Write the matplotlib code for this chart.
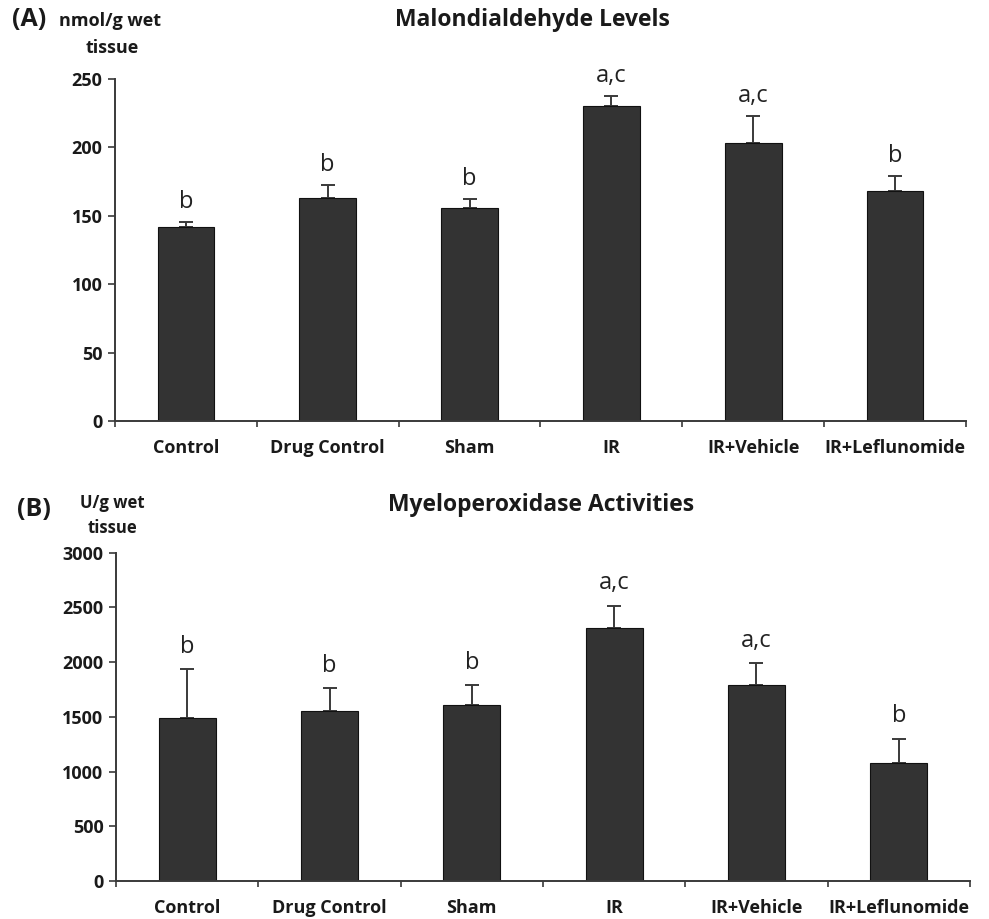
import matplotlib
matplotlib.use("Agg")
import matplotlib.pyplot as plt
import numpy as np

categories = ["Control", "Drug Control", "Sham", "IR", "IR+Vehicle", "IR+Leflunomide"]

mda_values = [142, 163, 156, 230, 203, 168]
mda_err = [3.5, 9.5, 6, 7.5, 20, 11]
mda_letters = ["b", "b", "b", "a,c", "a,c", "b"]
mda_yticks = [0, 50, 100, 150, 200, 250]

mpo_values = [1485, 1550, 1605, 2315, 1790, 1075]
mpo_err = [450, 210, 185, 200, 200, 225]
mpo_letters = ["b", "b", "b", "a,c", "a,c", "b"]
mpo_yticks = [0, 500, 1000, 1500, 2000, 2500, 3000]

FONT = "Open Sans"
BAR = "#333333"
AX = "#3a3a3a"
TXT = "#1a1a1a"

fig = plt.figure(figsize=(9.89, 9.19), dpi=100)

def fy(py):
    return 1 - py / 919

def panel(rect, values, errs, letters, yticks, ymax, title, title_xy, letter_off):
    ax = fig.add_axes(rect)
    x = np.arange(len(categories))
    ax.bar(x, values, width=0.4, color=BAR, edgecolor="#111111", linewidth=0.8, zorder=2)
    ax.errorbar(x, values, yerr=[np.zeros(len(values)), errs], fmt="none",
                ecolor=AX, elinewidth=1.4, capsize=5, capthick=1.4, zorder=1)
    for xi, v, e, l in zip(x, values, errs, letters):
        ax.text(xi, v + e + letter_off, l, ha="center", va="bottom",
                fontsize=17, family=FONT, color="#222222")
    ax.set_xlim(-0.5, len(categories) - 0.5)
    ax.set_ylim(0, ymax)
    ax.set_yticks(yticks)
    ax.set_yticklabels([str(t) for t in yticks], fontsize=13, fontweight="bold",
                       family=FONT, color=TXT)
    ax.set_xticks(np.arange(-0.5, len(categories) + 0.5, 1))
    ax.set_xticklabels([])
    ax.set_xticks(x, minor=True)
    ax.set_xticklabels(categories, minor=True, fontsize=13, fontweight="bold",
                       family=FONT, color=TXT)
    ax.tick_params(axis="x", which="minor", length=0, pad=13)
    ax.tick_params(axis="x", which="major", length=4, width=1.2, color=AX, direction="out")
    ax.tick_params(axis="y", length=5, width=1.2, color=AX, direction="out", pad=4)
    for s in ["top", "right"]:
        ax.spines[s].set_visible(False)
    for s in ["left", "bottom"]:
        ax.spines[s].set_color(AX)
        ax.spines[s].set_linewidth(1.4)
    fig.text(title_xy[0], title_xy[1], title, ha="center", va="center", fontsize=16.5,
             fontweight="bold", family=FONT, color=TXT)
    return ax

panel([115 / 989, fy(421), 851 / 989, (421 - 79) / 919], mda_values, mda_err, mda_letters,
      mda_yticks, 250, "Malondialdehyde Levels", (532 / 989, fy(20)), 6)
panel([116 / 989, fy(881), 854 / 989, (881 - 552.7) / 919], mpo_values, mpo_err, mpo_letters,
      mpo_yticks, 3000, "Myeloperoxidase Activities", (541 / 989, fy(505)), 95)

# panel tags and units
fig.text(12 / 989, fy(20), "(A)", ha="left", va="center", fontsize=18,
         fontweight="bold", family=FONT, color=TXT)
fig.text(110 / 989, fy(21), "nmol/g wet", ha="center", va="center", fontsize=13,
         fontweight="bold", family=FONT, color=TXT)
fig.text(112 / 989, fy(48), "tissue", ha="center", va="center", fontsize=13,
         fontweight="bold", family=FONT, color=TXT)

fig.text(17 / 989, fy(510), "(B)", ha="left", va="center", fontsize=18,
         fontweight="bold", family=FONT, color=TXT)
fig.text(112 / 989, fy(503), "U/g wet", ha="center", va="center", fontsize=12,
         fontweight="bold", family=FONT, color=TXT)
fig.text(112 / 989, fy(528), "tissue", ha="center", va="center", fontsize=12,
         fontweight="bold", family=FONT, color=TXT)

fig.savefig("out.png", dpi=100, facecolor="white")
